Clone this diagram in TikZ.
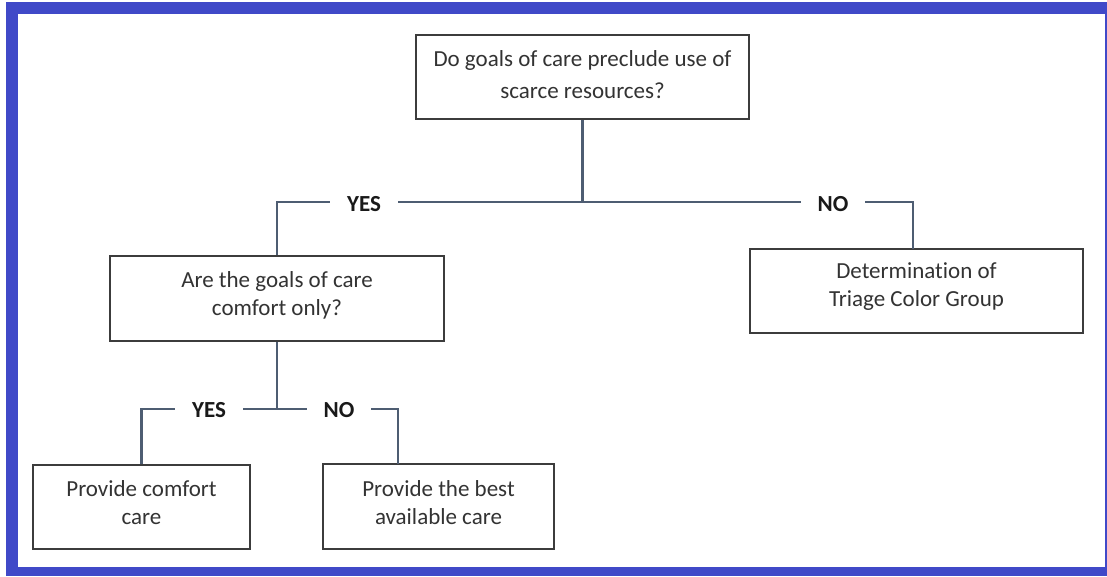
\documentclass[tikz,border=0pt]{standalone}
\usepackage{fontspec}
\setmainfont[Ligatures={NoCommon}]{Carlito}
\definecolor{frameblue}{HTML}{4049C8}
\definecolor{boxline}{HTML}{3C3C3C}
\definecolor{conn}{HTML}{4E5D72}
\definecolor{txt}{HTML}{333333}
\begin{document}
\begin{tikzpicture}[x=1pt,y=-1pt,
  box/.style={draw=boxline,line width=2pt,rectangle,inner sep=0pt},
  btxt/.style={align=center,text=txt,font=\fontsize{23}{28}\selectfont,inner sep=0pt},
  lbl/.style={fill=white,text=black!90,font=\fontsize{23}{26}\selectfont\bfseries,inner xsep=17pt,inner ysep=2pt},
  wire/.style={draw=conn,line width=2.2pt}]
\useasboundingbox (0,0) rectangle (1107,576);
\fill[frameblue] (6,2) rectangle (1107,576);
\fill[white] (18,14) rectangle (1105,567);
% boxes
\node[box,minimum width=333pt,minimum height=84pt] (q1) at (582.5,77) {};
\node[box,minimum width=334pt,minimum height=85pt] (q2) at (277,298.5) {};
\node[box,minimum width=333pt,minimum height=84pt] (tr) at (916.5,291) {};
\node[box,minimum width=217pt,minimum height=84pt] (pc) at (141.5,507) {};
\node[box,minimum width=231pt,minimum height=85pt] (pb) at (438.5,506.5) {};
% texts
\node[btxt,font=\fontsize{23}{32}\selectfont] (t1) at (582.5,75) {Do goals of care preclude use of\\scarce resources?};
\node[btxt] (t2) at (277,295) {Are the goals of care\\comfort only?};
\node[btxt] (t3) at (916.5,287) {Determination of\\Triage Color Group};
\node[btxt] (t4) at (141.5,503) {Provide comfort\\care};
\node[btxt] (t5) at (438.5,503) {Provide the best\\available care};
% connectors
\coordinate (j1) at (582.5,202);
\coordinate (trtop) at (913,249);
\coordinate (j2) at (277,409);
\coordinate (pbtop) at (398,464);
\draw[wire] (q1.south) -- (j1);
\draw[wire] (j1) -- (277,202) -- (q2.north);
\draw[wire] (j1) -- (913,202) -- (trtop);
\node[lbl] (yes1) at (364,204) {YES};
\node[lbl] (no1) at (833,204) {NO};
\draw[wire] (q2.south) -- (j2);
\draw[wire] (j2) -- (141.5,409) -- (pc.north);
\draw[wire] (j2) -- (398,409) -- (pbtop);
\node[lbl] (yes2) at (209,410) {YES};
\node[lbl] (no2) at (339,410) {NO};
\end{tikzpicture}
\end{document}
